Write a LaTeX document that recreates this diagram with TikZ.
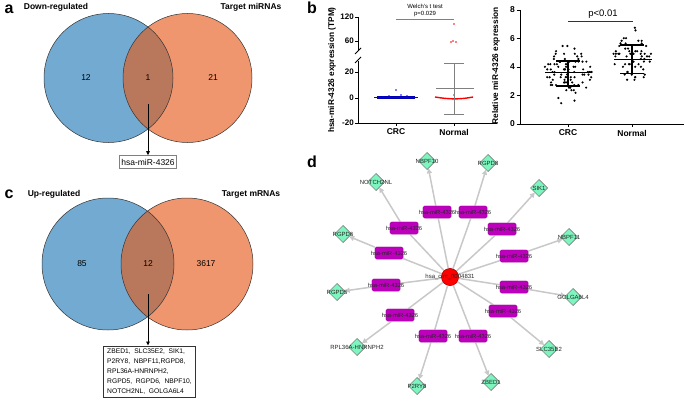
\documentclass[tikz,border=0pt]{standalone}
\usepackage{fontspec}
\setmainfont{Liberation Sans}
\usetikzlibrary{arrows.meta,shapes.geometric}
\definecolor{vblue}{RGB}{115,170,210}
\definecolor{vorange}{RGB}{240,150,110}
\definecolor{vover}{RGB}{185,120,92}
\definecolor{mag}{RGB}{188,0,188}
\definecolor{mint}{RGB}{125,245,190}
\definecolor{edgegray}{RGB}{200,200,200}
\tikzset{
  fs/.style={font=\fontsize{#1}{#1}\selectfont},
  plab/.style={font=\fontsize{16}{16}\selectfont\bfseries, inner sep=0pt},
  head/.style={font=\fontsize{8.5}{8.5}\selectfont\bfseries, inner sep=0pt},
  num/.style={font=\fontsize{8.5}{8.5}\selectfont, inner sep=0pt},
  tick/.style={font=\fontsize{8}{8}\selectfont\bfseries, inner sep=0pt, anchor=east},
  xlab/.style={font=\fontsize{8.5}{8.5}\selectfont\bfseries, inner sep=0pt},
  axis/.style={line width=0.8pt, black},
  mir/.style={rectangle, rounded corners=1.5pt, fill=mag, draw=mag!80!black, line width=0.3pt, minimum width=28pt, minimum height=12pt, inner sep=0pt},
  mlab/.style={font=\fontsize{5.8}{5.8}\selectfont, inner sep=0pt, text=black!85},
  gene/.style={diamond, fill=mint, draw=gray, line width=0.5pt, minimum width=17pt, minimum height=17pt, inner sep=0pt},
  glab/.style={font=\fontsize{6}{6}\selectfont, inner sep=0pt, text=black!85},
  edge/.style={draw=edgegray, line width=1.5pt},
  arr/.style={edge, -{Triangle[length=5pt,width=5pt]}},
  redc/.style={circle, fill=red, draw=red!70!black, line width=0.4pt, minimum size=17pt, inner sep=0pt},
}
\begin{document}
\begin{tikzpicture}[x=1pt,y=-1pt]
\useasboundingbox (0,0) rectangle (685,401);

% ================= Panel a =================
\node[plab] at (9,9) {a};
\node[head] at (56,7) {Down-regulated};
\node[head] at (251,7) {Target miRNAs};
\fill[vblue] (108.5,78) circle[radius=64.5pt];
\fill[vorange] (187.5,78) circle[radius=64.5pt];
\begin{scope}
  \clip (108.5,78) circle[radius=64.5pt];
  \fill[vover] (187.5,78) circle[radius=64.5pt];
\end{scope}
\draw[line width=0.5pt, black!80] (108.5,78) circle[radius=64.5pt];
\draw[line width=0.5pt, black!80] (187.5,78) circle[radius=64.5pt];
\node[num] at (86,78) {12};
\node[num] at (148,78) {1};
\node[num] at (213,78) {21};
\coordinate (astart) at (148,104);
\node[draw=gray, line width=0.6pt, fill=white, font=\fontsize{8.5}{8.5}\selectfont, inner sep=2pt, minimum height=13pt] (abox) at (148,162) {hsa-miR-4326};
\draw[line width=0.9pt, -{Triangle[length=4pt,width=3.5pt]}] (astart) -- (abox.north);

% ================= Panel c =================
\node[plab] at (9,194) {c};
\node[head] at (54,194) {Up-regulated};
\node[head] at (251,194) {Target mRNAs};
\fill[vblue] (108,264) circle[radius=66pt];
\fill[vorange] (187,264) circle[radius=66pt];
\begin{scope}
  \clip (108,264) circle[radius=66pt];
  \fill[vover] (187,264) circle[radius=66pt];
\end{scope}
\draw[line width=0.5pt, black!80] (108,264) circle[radius=66pt];
\draw[line width=0.5pt, black!80] (187,264) circle[radius=66pt];
\node[num] at (82,264) {85};
\node[num] at (148,264) {12};
\node[num] at (206,264) {3617};
\coordinate (cstart) at (148,294);
\node[draw=black!80, line width=0.6pt, fill=white, font=\fontsize{6.7}{10}\selectfont, align=left, inner xsep=4pt, inner ysep=3pt, anchor=north] (cbox) at (149.5,345.5)
  {ZBED1,\ \ SLC35E2,\ \ SIK1,\\P2RY8,\ \ NBPF11,RGPD8,\\RPL36A-HNRNPH2,\\RGPD5,\ \ RGPD6,\ \ NBPF10,\\NOTCH2NL,\ \ GOLGA6L4};
\draw[line width=0.9pt, -{Triangle[length=4pt,width=3.5pt]}] (cstart) -- (cbox.north -| cstart);

% ================= Panel b (left) =================
\node[plab] at (312,8) {b};
\node[rotate=90, font=\fontsize{8.3}{8.3}\selectfont\bfseries, inner sep=0pt] at (332,70) {hsa-miR-4326 expression (TPM)};
\draw[axis] (358,17) -- (358,50);
\draw[axis] (358,61) -- (358,123) -- (497,123);
\draw[line width=0.8pt] (355,54) -- (361,48);
\draw[line width=0.8pt] (355,63) -- (361,57);
\foreach \y/\t in {17/120,41/60,72/20,98/0,123/-20}{
  \draw[axis] (355,\y) -- (358,\y);
  \node[tick] at (354,\y) {\t};
}
\draw[axis] (396,123) -- (396,126);
\draw[axis] (454,123) -- (454,126);
\node[xlab] at (396,132) {CRC};
\node[xlab] at (454,132) {Normal};
\node[fs=6, inner sep=0pt] at (425,6) {Welch's t test};
\node[fs=6, inner sep=0pt] at (425,14) {p=0.029};
\draw[line width=0.5pt, gray] (396,19) -- (454,19);
\draw[blue!70!black, line width=3pt] (377,98) -- (415,98);
\draw[blue, line width=0.6pt] (374,97.5) -- (418,97.5);
\foreach \px/\py in {396/90,401/95,389/96,407/96,383/97}{
  \fill[blue] (\px,\py) circle[radius=0.9pt];
}
\draw[red, line width=1.4pt] (435,97) .. controls (450,99.5) and (460,99.5) .. (473,97);
\foreach \px/\py in {454/24,453/41,456/42,451/42,454/95}{
  \fill[red] (\px,\py) circle[radius=0.9pt];
}
\draw[gray, line width=1pt] (454,64) -- (454,115);
\draw[gray, line width=1pt] (444,64) -- (464,64);
\draw[gray, line width=1pt] (444,115) -- (464,115);
\draw[gray, line width=1pt] (436,89) -- (474,89);

% ================= Panel b (right) =================
\node[rotate=90, font=\fontsize{8.3}{8.3}\selectfont\bfseries, inner sep=0pt] at (496,66) {Relative miR-4326 expression};
\draw[axis] (520,10) -- (520,124) -- (684,124);
\foreach \v in {0,2,4,6,8}{
  \pgfmathsetmacro\yy{124-\v*14.25}
  \draw[axis] (516.5,\yy) -- (520,\yy);
  \node[tick, font=\fontsize{8.5}{8.5}\selectfont\bfseries] at (515,\yy) {\v};
}
\draw[axis] (568,124) -- (568,127);
\draw[axis] (632,124) -- (632,127);
\node[xlab] at (568,133) {CRC};
\node[xlab] at (632,133) {Normal};
\node[fs=9.5, inner sep=0pt] at (603,14) {p<0.01};
\draw[line width=0.5pt, black!80] (568,21) -- (633,21);
\pgfmathsetseed{4326}
\foreach \i in {1,...,90}{
  \pgfmathsetmacro\v{3.6+0.85*(rand+rand+rand)}
  \pgfmathsetmacro\vv{max(1.5,min(5.5,\v))}
  \pgfmathsetmacro\w{20*exp(-((\vv-3.6)/1.3)^2/2)+4}
  \pgfmathsetmacro\xx{568+rand*\w}
  \pgfmathsetmacro\yq{124-round(\vv*14.25/2.6)*2.6}
  \fill[black] (\xx,\yq) circle[radius=1.2pt];
}
\foreach \i in {1,...,58}{
  \pgfmathsetmacro\v{4.55+0.9*(rand+rand+rand)}
  \pgfmathsetmacro\vv{max(2.5,min(6.7,\v))}
  \pgfmathsetmacro\w{16*exp(-((\vv-4.55)/1.3)^2/2)+4}
  \pgfmathsetmacro\xx{632+rand*\w}
  \pgfmathsetmacro\yq{124-round(\vv*14.25/2.6)*2.6}
  \fill[black] (\xx,\yq) circle[radius=1.2pt];
}
\draw[line width=1.2pt] (545,72.7) -- (591,72.7);
\draw[line width=1.1pt] (568,61) -- (568,86);
\draw[line width=1.1pt] (556,61) -- (580,61);
\draw[line width=1.1pt] (556,86) -- (580,86);
\draw[line width=1.2pt] (614,59.2) -- (652,59.2);
\draw[line width=1.1pt] (632,45) -- (632,73.5);
\draw[line width=1.1pt] (620,45) -- (644,45);
\draw[line width=1.1pt] (620,73.5) -- (644,73.5);

% ================= Panel d =================
\node[plab] at (312,162) {d};
\node[redc] (c) at (450,277) {};
\foreach \n/\px/\py in {1/437/212, 2/473/212, 3/404/228, 4/502/229, 5/389/253, 6/514/256, 7/386/285, 8/514/287, 9/400/315, 10/503/311, 11/433/336, 12/473/336}{
  \node[mir] (m\n) at (\px,\py) {};
}
\node[gene] (g1) at (427,161) {};
\node[gene] (g2) at (488,163) {};
\node[gene] (g3) at (376,182) {};
\node[gene] (g4) at (539,188) {};
\node[gene] (g5) at (343,234) {};
\node[gene] (g6) at (569,237) {};
\node[gene] (g7) at (337,292) {};
\node[gene] (g8) at (573,297) {};
\node[gene] (g9) at (357,347) {};
\node[gene] (g10) at (549,349) {};
\node[gene] (g11) at (417,386) {};
\node[gene] (g12) at (491,382) {};
\foreach \n in {1,...,12}{
  \draw[edge] (c) -- (m\n);
  \draw[arr] (m\n) -- (g\n);
}
\node[redc] at (c) {};
\foreach \n in {1,...,12}{
  \node[mir] at (m\n) {};
  \node[mlab] at (m\n) {hsa-miR-4326};
}
\foreach \n/\t in {1/NBPF10, 2/RGPD8, 3/NOTCH2NL, 4/SIK1, 5/RGPD6, 6/NBPF11, 7/RGPD5, 8/GOLGA6L4, 9/RPL36A-HNRNPH2, 10/SLC35E2, 11/P2RY8, 12/ZBED1}{
  \node[gene] at (g\n) {};
  \node[glab] at (g\n) {\t};
}
\node[fs=6, inner sep=0pt, text=black!85] at (c) {hsa\_circ\_0004831};
\end{tikzpicture}
\end{document}
